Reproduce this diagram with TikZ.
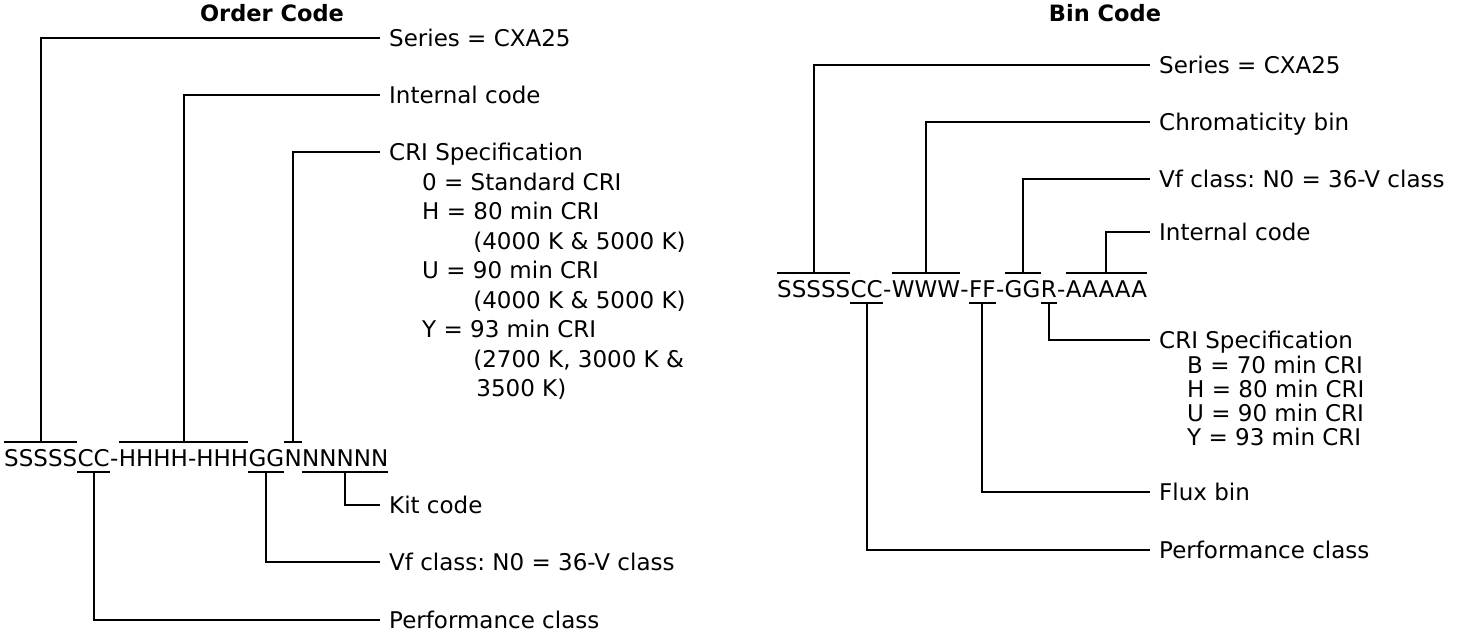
\documentclass[tikz,border=0pt]{standalone}
\usepackage{fontspec}
\setmainfont{DejaVu Sans}
\usetikzlibrary{positioning}

\newcommand{\codefont}{\fontsize{23}{27}\selectfont}
\newcommand{\ttlfont}{\fontsize{22.5}{26}\selectfont\bfseries}
\frenchspacing

\tikzset{
  seg/.style={font=\codefont, inner sep=0pt, text height=23.5pt, text depth=6pt},
  bar/.style={line width=2pt},
  lead/.style={line width=2pt},
  lbl/.style={font=\codefont, anchor=west, inner xsep=9pt, inner ysep=0pt, text height=16pt, text depth=0pt},
  ttl/.style={font=\ttlfont, inner sep=0pt},
  leftlist/.style={font=\fontsize{23}{29.5}\selectfont, align=left, inner sep=0pt, anchor=north west},
  rightlist/.style={font=\fontsize{23}{24}\selectfont, align=left, inner sep=0pt, anchor=north west}
}

\begin{document}
\begin{tikzpicture}[x=1pt,y=-1pt]
        \useasboundingbox (0,0) rectangle (1465,632);
        % order code
        \node[ttl] (ttl1) at (272,13) {Order Code};
        \node[seg, anchor=base west] (s1) at (4,466) {SSSSS};
        \node[seg, right=0pt of s1] (c1) {CC};
        \node[seg, right=0pt of c1] (d1) {-};
        \node[seg, right=0pt of d1] (h1) {HHHH-HHH};
        \node[seg, right=0pt of h1] (g1) {GG};
        \node[seg, right=0pt of g1] (n1) {N};
        \node[seg, right=0pt of n1] (k1) {NNNNN};
        \foreach \o in {s1,h1,n1} \draw[bar] (\o.north west) -- (\o.north east);
        \foreach \u in {c1,g1,k1} \draw[bar] (\u.south west) -- (\u.south east);

        \node[lbl] (ser1) at (380,38) {Series = CXA25};
        \node[lbl] (int1) at (380,95) {Internal code};
        \node[lbl] (cri1) at (380,152) {CRI Specification};
        \node[leftlist] (crl1) at ([xshift=42pt,yshift=-12.5pt]cri1.south west)
          {0 = Standard CRI\\
           H = 80 min CRI\\
           \hphantom{H = }(4000 K \& 5000 K)\\
           U = 90 min CRI\\
           \hphantom{H = }(4000 K \& 5000 K)\\
           Y = 93 min CRI\\
           \hphantom{H = }(2700 K, 3000 K \&\\
           \hphantom{H = }\hspace*{3pt}3500 K)};
        \node[lbl] (kit1) at (380,505) {Kit code};
        \node[lbl] (vf1) at (380,562) {Vf class: N0 = 36-V class};
        \node[lbl] (perf1) at (380,620) {Performance class};

        \draw[lead] (s1.north) |- (ser1.west);
        \draw[lead] (h1.north) |- (int1.west);
        \draw[lead] (n1.north) |- (cri1.west);
        \draw[lead] (k1.south) |- (kit1.west);
        \draw[lead] (g1.south) |- (vf1.west);
        \draw[lead] (c1.south) |- (perf1.west);

        % bin code
        \node[ttl] (ttl2) at (1105,13) {Bin Code};
        \node[seg, anchor=base west] (s2) at (777,297) {SSSSS};
        \node[seg, right=0pt of s2] (c2) {CC};
        \node[seg, right=0pt of c2] (d2) {-};
        \node[seg, right=0pt of d2] (w2) {WWW};
        \node[seg, right=0pt of w2] (d3) {-};
        \node[seg, right=0pt of d3] (f2) {FF};
        \node[seg, right=0pt of f2] (d4) {-};
        \node[seg, right=0pt of d4] (g2) {GG};
        \node[seg, right=0pt of g2] (r2) {R};
        \node[seg, right=0pt of r2] (d5) {-};
        \node[seg, right=0pt of d5] (a2) {AAAAA};
        \foreach \o in {s2,w2,g2,a2} \draw[bar] (\o.north west) -- (\o.north east);
        \foreach \u in {c2,f2,r2} \draw[bar] (\u.south west) -- (\u.south east);

        \node[lbl] (ser2) at (1150,65) {Series = CXA25};
        \node[lbl] (chr2) at (1150,122) {Chromaticity bin};
        \node[lbl] (vf2) at (1150,179) {Vf class: N0 = 36-V class};
        \node[lbl] (int2) at (1150,232) {Internal code};
        \node[lbl] (cri2) at (1150,340) {CRI Specification};
        \node[rightlist] (crl2) at ([xshift=37pt,yshift=-8pt]cri2.south west)
          {B = 70 min CRI\\
           H = 80 min CRI\\
           U = 90 min CRI\\
           Y = 93 min CRI};
        \node[lbl] (flux2) at (1150,492) {Flux bin};
        \node[lbl] (perf2) at (1150,550) {Performance class};

        \draw[lead] (s2.north) |- (ser2.west);
        \draw[lead] (w2.north) |- (chr2.west);
        \draw[lead] (g2.north) |- (vf2.west);
        \draw[lead] (a2.north) |- (int2.west);
        \draw[lead] (r2.south) |- (cri2.west);
        \draw[lead] (f2.south) |- (flux2.west);
        \draw[lead] (c2.south) |- (perf2.west);
    \end{tikzpicture}
\end{document}
